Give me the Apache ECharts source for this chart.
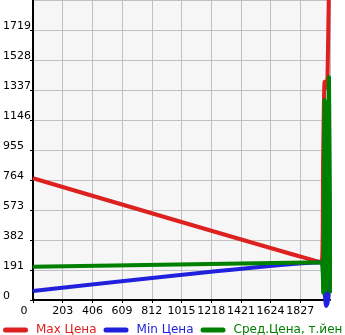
<!DOCTYPE html>
<html>
<head>
<meta charset="utf-8">
<script src="https://cdn.jsdelivr.net/npm/echarts@6/dist/echarts.min.js"></script>
<style>html,body{margin:0;padding:0;background:#fff}#c{width:345px;height:335px}</style>
</head>
<body>
<div id="c"></div>
<script>
var xValues = [0, 1973, 1983, 1993, 2003, 2013, 2023, 2033];
var maxPrice = [775, 240, 900, 1390, 1350, 1420, 2000, 2300];
var minPrice = [57, 240, 150, 60, -38, -20, 80, 340];
var avgPrice = [212, 240, 45, 1273, 60, 700, 1422, 45];
var xTickLabels = ['0', '203', '406', '609', '812', '1015', '1218', '1421', '1624', '1827'];
var yTickLabels = ['0', '191', '382', '573', '764', '955', '1146', '1337', '1528', '1719'];
var seriesNames = ['Max Цена', 'Min Цена', 'Сред.Цена, т.йен'];
var colors = ['#dd2020', '#2020dd', '#008000'];

function pairs(vals) { return xValues.map(function (x, i) { return [x, vals[i]]; }); }

var chart = echarts.init(document.getElementById('c'));
var font = 'DejaVu Sans';
var capsule = 'path://M2.5,0 L22.5,0 A2.5,2.5 0 0 1 22.5,5 L2.5,5 A2.5,2.5 0 0 1 2.5,0 Z';
chart.setOption({
  animation: false,
  textStyle: { fontFamily: font },
  grid: { left: 30, right: 15, top: 0, bottom: 35, show: true, backgroundColor: '#f6f6f6', borderWidth: 0 },
  xAxis: {
    type: 'value', min: 0, max: 2030, interval: 203,
    axisLine: { lineStyle: { color: '#000', width: 2 } },
    axisTick: { show: true, length: 3, lineStyle: { color: '#000' } },
    splitLine: { show: true, lineStyle: { color: '#c0c0c0', width: 1 } },
    axisLabel: {
      showMaxLabel: false, fontSize: 11, color: '#000', margin: 6, fontFamily: font,
      formatter: function (v) {
        var i = Math.round(v / 203);
        var t = xTickLabels[i] !== undefined ? xTickLabels[i] : '';
        return i === 0 ? '{z|' + t + '}' : t;
      },
      rich: { z: { fontSize: 11, color: '#000', padding: [0, 18, 0, 0], fontFamily: font } }
    }
  },
  yAxis: {
    type: 'value', min: 0, max: 1910, interval: 191,
    axisLine: { show: true, lineStyle: { color: '#000', width: 2 } },
    axisTick: { show: true, length: 3, lineStyle: { color: '#000' } },
    splitLine: { show: true, lineStyle: { color: '#c0c0c0', width: 1 } },
    axisLabel: {
      showMaxLabel: false, fontSize: 11, color: '#000', margin: 30, align: 'left',
      verticalAlign: 'bottom', lineHeight: 8, fontFamily: font,
      formatter: function (v) {
        var i = Math.round(v / 191);
        return yTickLabels[i] !== undefined ? yTickLabels[i] : '';
      }
    }
  },
  legend: {
    left: -2, top: 319, width: 600, itemWidth: 25, itemHeight: 5, itemGap: 7, icon: capsule,
    textStyle: { fontSize: 12, fontFamily: font, padding: [0, 0, 0, 3] },
    data: seriesNames.map(function (n, i) { return { name: n, textStyle: { color: colors[i] } }; })
  },
  series: [maxPrice, minPrice, avgPrice].map(function (vals, i) {
    return {
      name: seriesNames[i], type: 'line', data: pairs(vals), showSymbol: false, clip: false,
      smooth: 0.2, color: colors[i], lineStyle: { width: 4, color: colors[i] }
    };
  })
});
</script>
</body>
</html>
